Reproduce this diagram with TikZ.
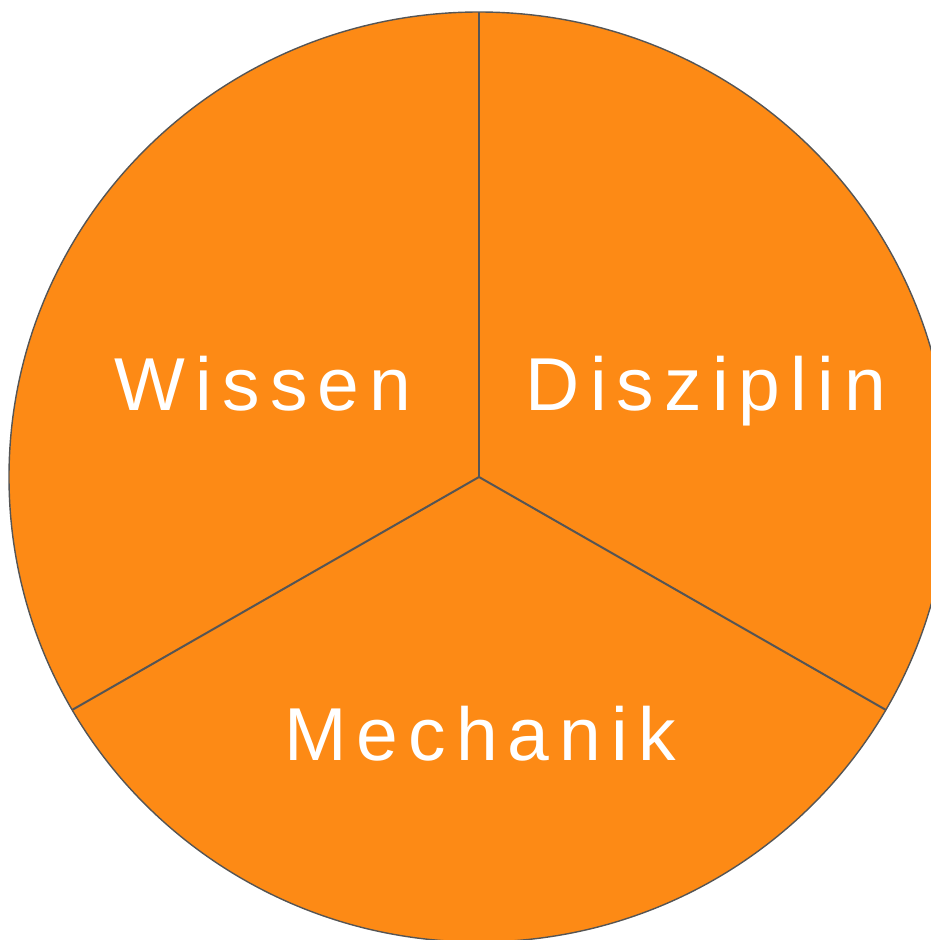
\documentclass[tikz,border=0pt]{standalone}
\usepackage{fontspec}
\setmainfont{Liberation Sans}
\newfontfamily\lblfont[LetterSpace=13.5]{Liberation Sans}
\definecolor{pieorange}{HTML}{FD8A15}
\definecolor{pieline}{HTML}{555555}
\begin{document}
\begin{tikzpicture}[x=1pt,y=-1pt,
  sep/.style={draw=pieline,line width=2pt},
  lbl/.style={text=white,font=\lblfont\fontsize{75}{80}\selectfont,anchor=base,inner sep=0pt}]
\useasboundingbox (0,0) rectangle (931,940);
\clip (0,0) rectangle (931,940);
\fill[pieorange,draw=pieline,line width=1.4pt] (479,477) ellipse [x radius=470, y radius=465];
\coordinate (c) at (479,477);
\coordinate (t) at (479,12);
\coordinate (l) at (72,710);
\coordinate (r) at (886,710);
\draw[sep] (c) -- (t);
\draw[sep] (c) -- (l);
\draw[sep] (c) -- (r);
\node[lbl] (w) at (263,410) {Wissen};
\node[lbl] (d) at (706,410) {Disziplin};
\node[lbl] (m) at (480,760) {Mechanik};
\end{tikzpicture}
\end{document}
